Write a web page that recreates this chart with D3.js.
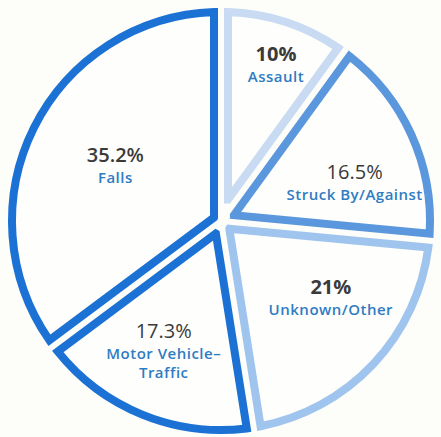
<!DOCTYPE html>
<html>
<head>
<meta charset="utf-8">
<script src="https://cdn.jsdelivr.net/npm/d3@7"></script>
<style>
  html, body { margin: 0; padding: 0; background: #fdfdf9; }
  svg { display: block; }
  .pct { font-family: "Open Sans", sans-serif; fill: #3a3a3a; text-anchor: middle; }
  .lbl { font-family: "Open Sans", sans-serif; font-weight: 600; fill: #2f7cc3; text-anchor: middle; letter-spacing: 0.5px; }
</style>
</head>
<body>
<div id="main"></div>
<script>
// slices, clockwise from 12 o'clock
var categories = ["Assault", "Struck By/Against", "Unknown/Other", "Motor Vehicle-Traffic", "Falls"];
var shares = [10, 16.5, 21, 17.3, 35.2];
var shareLabels = ["10%", "16.5%", "21%", "17.3%", "35.2%"];
var labelLines = [["Assault"], ["Struck By/Against"], ["Unknown/Other"], ["Motor Vehicle\u2013", "Traffic"], ["Falls"]];

// look
var strokeColors = ["#c8dbf3", "#5b97dc", "#9fc4ee", "#1c72d4", "#1c72d4"];
var pctWeights = [700, 400, 700, 400, 600];
var labelRadius = [169, 140, 132, 130, 121];
var labelNudge = [1, 7, -9.5, 4, 2.5]; // degrees

var width = 441,
    height = 437,
    cx = 221,
    cy = 221,
    radius = 209,
    halfGap = 7,
    strokeWidth = 8;

var svg = d3.select("#main")
    .append("svg")
    .attr("width", width)
    .attr("height", height)
    .append("g")
    .attr("transform", "translate(" + cx + "," + cy + ")");

var pie = d3.pie()
    .sort(null)
    .value(function(d) { return d; });

var padAngle = 2 * Math.asin(halfGap / radius);

// inner radius = apex of the sector after shrinking each edge by halfGap
var arc = d3.arc()
    .outerRadius(radius)
    .innerRadius(function(d) {
        return 1.0001 * halfGap / Math.sin((d.endAngle - d.startAngle) / 2);
    })
    .padAngle(padAngle)
    .padRadius(radius);

var arcs = pie(shares);

svg.selectAll(".slice")
    .data(arcs)
    .enter().append("path")
    .attr("class", "slice")
    .attr("d", arc)
    .attr("fill", "#fefefc")
    .attr("stroke", function(d, i) { return strokeColors[i]; })
    .attr("stroke-width", strokeWidth)
    .attr("stroke-linejoin", "miter");

function project(angleDeg, r) {
    var a = angleDeg / 180 * Math.PI;
    return [r * Math.sin(a), -r * Math.cos(a)];
}

var label = svg.selectAll(".label")
    .data(arcs)
    .enter().append("g")
    .attr("class", "label")
    .attr("transform", function(d, i) {
        var mid = (d.startAngle + d.endAngle) / 2 * 180 / Math.PI;
        return "translate(" + project(mid + labelNudge[i], labelRadius[i]) + ")";
    });

label.append("text")
    .attr("class", "pct")
    .style("font-size", "20px")
    .style("font-weight", function(d, i) { return pctWeights[i]; })
    .text(function(d, i) { return shareLabels[i]; });

label.each(function(d, i) {
    var g = d3.select(this);
    labelLines[i].forEach(function(line, j) {
        g.append("text")
            .attr("class", "lbl")
            .attr("y", 21 + j * 19)
            .style("font-size", "15px")
            .text(line);
    });
});
</script>
</body>
</html>
